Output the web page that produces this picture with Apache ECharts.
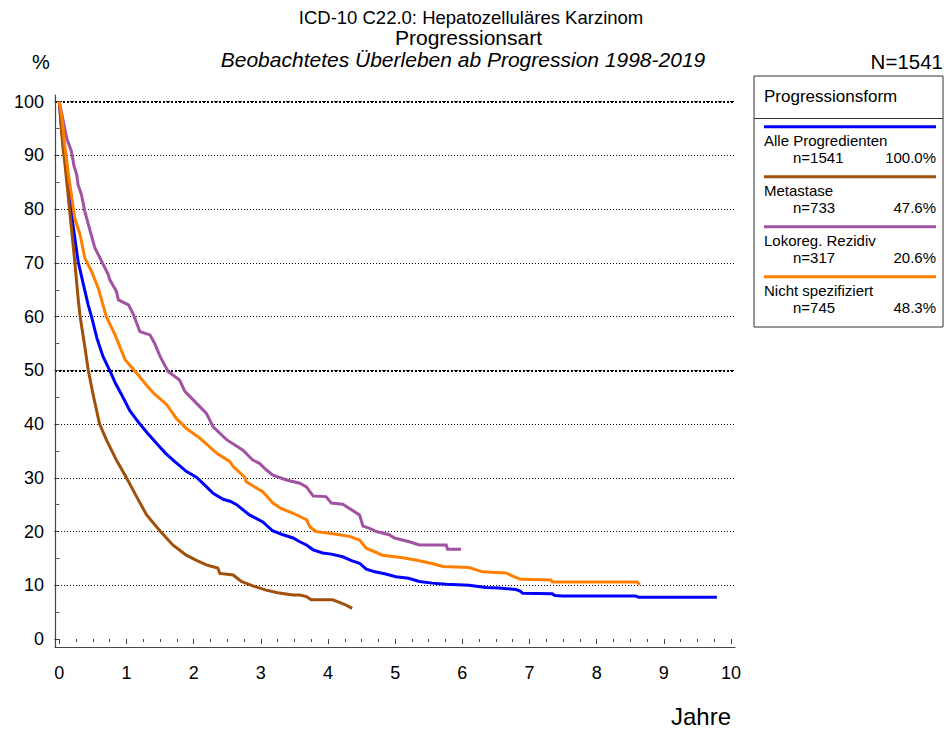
<!DOCTYPE html>
<html>
<head>
<meta charset="utf-8">
<script src="https://cdn.jsdelivr.net/npm/echarts@6/dist/echarts.min.js"></script>
<style>
  html, body { margin: 0; padding: 0; background: #fff; }
  #chart { width: 944px; height: 729px; }
</style>
</head>
<body>
<div id="chart"></div>
<script>
// Kaplan-Meier survival from progression, in percent, against years
const alleProgredienten = [
  [0,100],[0.05,93],[0.10,87.5],[0.15,82.7],[0.21,76.5],[0.28,70.3],[0.36,65.9],[0.43,62.2],
  [0.48,60],[0.56,56],[0.65,52.6],[0.75,50],[0.84,47.5],[0.93,45.4],[1.05,42.5],[1.20,40],
  [1.32,38.2],[1.45,36.4],[1.58,34.6],[1.72,33.0],[1.89,31.2],[2.04,30.1],[2.17,28.6],[2.29,27.1],
  [2.44,26.0],[2.55,25.6],[2.64,25.0],[2.83,23.1],[3.03,21.8],[3.18,20.1],[3.33,19.4],[3.48,18.8],
  [3.58,18.1],[3.68,17.5],[3.78,16.6],[3.92,16.0],[4.05,15.8],[4.22,15.3],[4.35,14.6],[4.47,14.1],
  [4.57,13.0],[4.70,12.5],[4.86,12.1],[5.01,11.6],[5.20,11.3],[5.36,10.7],[5.55,10.4],[5.76,10.2],
  [6.10,10.0],[6.35,9.6],[6.55,9.5],[6.80,9.2],[6.86,8.9],[6.90,8.5],[7.34,8.4],[7.38,8.1],
  [7.49,8.0],[8.58,8.0],[8.63,7.75],[9.79,7.75]
];
const metastase = [
  [0,100],[0.03,95],[0.06,90.8],[0.08,88.9],[0.13,82.7],[0.18,76.5],[0.23,70.3],[0.28,63.4],
  [0.31,60],[0.38,54.4],[0.43,50.1],[0.51,45.1],[0.60,40],[0.70,37.1],[0.85,33.3],[1.00,30],
  [1.15,26.5],[1.30,23.1],[1.50,20.1],[1.69,17.5],[1.89,15.6],[2.05,14.6],[2.19,13.8],[2.30,13.4],
  [2.36,13.2],[2.39,12.2],[2.59,11.9],[2.65,11.3],[2.71,10.7],[2.88,9.9],[3.08,9.1],[3.25,8.6],
  [3.48,8.2],[3.58,8.2],[3.68,7.9],[3.75,7.3],[4.07,7.3],[4.17,6.8],[4.27,6.3],[4.36,5.7]
];
const lokoregRezidiv = [
  [0,100],[0.06,96.3],[0.11,93.2],[0.18,90.8],[0.22,88.0],[0.26,86.4],[0.28,84.5],[0.33,82.7],
  [0.38,79.6],[0.46,75.9],[0.53,72.8],[0.63,70.3],[0.73,67.8],[0.75,66.9],[0.85,64.7],[0.88,63.1],
  [1.03,62.2],[1.10,60.5],[1.20,57.2],[1.35,56.6],[1.42,55.0],[1.50,52.6],[1.62,49.8],[1.79,48.2],
  [1.87,46.1],[2.04,43.9],[2.19,42.0],[2.29,39.5],[2.49,37.1],[2.73,35.2],[2.88,33.3],[2.98,32.7],
  [3.08,31.5],[3.18,30.5],[3.38,29.6],[3.58,29.0],[3.68,28.3],[3.78,26.6],[3.97,26.5],[4.05,25.3],
  [4.22,25.1],[4.32,24.3],[4.47,23.1],[4.52,21.0],[4.62,20.6],[4.72,20.0],[4.91,19.4],[4.99,18.8],
  [5.21,18.1],[5.36,17.5],[5.76,17.5],[5.78,16.7],[5.98,16.7]
];
const nichtSpezifiziert = [
  [0,100],[0.04,96.9],[0.08,92.0],[0.13,87.0],[0.18,82.7],[0.23,78.3],[0.31,75.2],[0.38,70.9],
  [0.48,68.4],[0.58,65.3],[0.65,62.2],[0.70,60.0],[0.83,56.6],[0.98,52.0],[1.15,49.5],[1.28,47.5],
  [1.40,45.8],[1.60,43.6],[1.74,41.1],[1.89,39.2],[2.09,37.4],[2.20,36.2],[2.34,34.6],[2.54,33.0],
  [2.59,32.1],[2.76,30.1],[2.78,29.3],[3.03,27.4],[3.18,25.3],[3.30,24.3],[3.48,23.4],[3.58,22.8],
  [3.68,22.2],[3.73,20.9],[3.82,20.0],[4.07,19.6],[4.32,19.1],[4.47,18.4],[4.57,16.9],[4.81,15.6],
  [5.06,15.2],[5.31,14.7],[5.56,14.0],[5.71,13.5],[6.10,13.3],[6.30,12.5],[6.65,12.3],[6.75,11.7],
  [6.87,11.1],[7.32,11.0],[7.34,10.6],[8.60,10.6],[8.64,10.1]
];

// Legend entries
const groupNames = ['Alle Progredienten', 'Metastase', 'Lokoreg. Rezidiv', 'Nicht spezifiziert'];
const groupN = [1541, 733, 317, 745];
const groupPct = ['100.0%', '47.6%', '20.6%', '48.3%'];
const groupData = [alleProgredienten, metastase, lokoregRezidiv, nichtSpezifiziert];
const groupColors = ['#0000ff', '#a0500a', '#a252a2', '#ff8000'];

const titleLines = [
  'ICD-10 C22.0: Hepatozelluläres Karzinom',
  'Progressionsart',
  'Beobachtetes Überleben ab Progression 1998-2019'
];
const totalLabel = 'N=1541';
const legendTitle = 'Progressionsform';

const FONT = '"Liberation Sans", Arial, sans-serif';
const AXIS_COLOR = '#444';

const chart = echarts.init(document.getElementById('chart'), null, { renderer: 'svg' });

// Legend panel
const legendX = 754, legendY = 76, legendW = 189, legendH = 251;
const legendGraphics = [
  { type: 'rect', shape: { x: legendX, y: legendY, width: legendW, height: legendH },
    style: { fill: '#fff', stroke: '#333', lineWidth: 1 } },
  { type: 'line', shape: { x1: legendX, y1: 118.5, x2: legendX + legendW, y2: 118.5 },
    style: { stroke: '#333', lineWidth: 1 } },
  { type: 'text', x: 764, y: 96,
    style: { text: legendTitle, font: '17px ' + FONT, fill: '#000', textAlign: 'left', textVerticalAlign: 'middle' } }
];
groupNames.forEach((name, i) => {
  const y0 = 126.7 + 50 * i;
  legendGraphics.push(
    { type: 'line', shape: { x1: 764, y1: y0, x2: 936, y2: y0 },
      style: { stroke: groupColors[i], lineWidth: 3 } },
    { type: 'text', x: 764, y: y0 + 13.3,
      style: { text: name, font: '15px ' + FONT, fill: '#000', textAlign: 'left', textVerticalAlign: 'middle' } },
    { type: 'text', x: 793, y: y0 + 30.6,
      style: { text: 'n=' + groupN[i], font: '15px ' + FONT, fill: '#000', textAlign: 'left', textVerticalAlign: 'middle' } },
    { type: 'text', x: 936, y: y0 + 30.6,
      style: { text: groupPct[i], font: '15px ' + FONT, fill: '#000', textAlign: 'right', textVerticalAlign: 'middle' } }
  );
});

const textGraphics = [
  { type: 'text', x: 471, y: 17,
    style: { text: titleLines[0], font: '18.5px ' + FONT, fill: '#000', textAlign: 'center', textVerticalAlign: 'middle' } },
  { type: 'text', x: 468.5, y: 37,
    style: { text: titleLines[1], font: '21px ' + FONT, fill: '#000', textAlign: 'center', textVerticalAlign: 'middle' } },
  { type: 'text', x: 463, y: 59,
    style: { text: titleLines[2], font: 'italic 21px ' + FONT, fill: '#000', textAlign: 'center', textVerticalAlign: 'middle' } },
  { type: 'text', x: 943, y: 61,
    style: { text: totalLabel, font: '20.5px ' + FONT, fill: '#000', textAlign: 'right', textVerticalAlign: 'middle' } },
  { type: 'text', x: 41, y: 62,
    style: { text: '%', font: '20px ' + FONT, fill: '#000', textAlign: 'center', textVerticalAlign: 'middle' } },
  { type: 'text', x: 731, y: 716,
    style: { text: 'Jahre', font: '24px ' + FONT, fill: '#000', textAlign: 'right', textVerticalAlign: 'middle' } }
];

const hidden = { show: false };

chart.setOption({
  animation: false,
  backgroundColor: '#fff',
  grid: [
    // plotting area: x 0..10 years, y 0..100 %
    { left: 59.3, top: 101.7, width: 671.7, height: 537.3 },
    // axis frame, set slightly outside the plotting area
    { left: 55, top: 95, width: 680, height: 552 },
    // horizontal reference lines spanning the frame
    { left: 55, top: 101.7, width: 680, height: 537.3 }
  ],
  xAxis: [
    { gridIndex: 0, type: 'value', min: 0, max: 10, interval: 1, offset: 8,
      axisLine: hidden,
      axisTick: { show: true, length: 5, lineStyle: { color: AXIS_COLOR } },
      minorTick: { show: true, splitNumber: 4, length: 3, lineStyle: { color: AXIS_COLOR } },
      axisLabel: { fontSize: 18, fontFamily: FONT, color: '#000', margin: 17 },
      splitLine: hidden },
    { gridIndex: 1, type: 'value', min: 0, max: 1,
      axisLine: { show: true, lineStyle: { color: AXIS_COLOR, width: 1.2 } },
      axisTick: hidden, axisLabel: hidden, splitLine: hidden },
    { gridIndex: 2, type: 'value', min: 0, max: 1, show: false }
  ],
  yAxis: [
    { gridIndex: 0, type: 'value', min: 0, max: 100, interval: 10, offset: 4.3,
      axisLine: hidden,
      axisTick: { show: true, length: 5, lineStyle: { color: AXIS_COLOR } },
      minorTick: { show: true, splitNumber: 2, length: 3, lineStyle: { color: AXIS_COLOR } },
      axisLabel: { fontSize: 18, fontFamily: FONT, color: '#000', margin: 11 },
      splitLine: hidden },
    { gridIndex: 1, type: 'value', min: 0, max: 1,
      axisLine: { show: true, lineStyle: { color: AXIS_COLOR, width: 1.2 } },
      axisTick: hidden, axisLabel: hidden, splitLine: hidden },
    { gridIndex: 2, type: 'value', min: 0, max: 100, interval: 10,
      axisLine: hidden, axisTick: hidden, axisLabel: hidden,
      splitLine: { show: true, showMinLine: false,
        lineStyle: { color: '#000', width: 1, type: [1, 2] } } },
    { gridIndex: 2, type: 'value', min: 0, max: 100, interval: 50,
      axisLine: hidden, axisTick: hidden, axisLabel: hidden,
      splitLine: { show: true, showMinLine: false,
        lineStyle: { color: '#000', width: 2, type: [2, 2] } } }
  ],
  graphic: textGraphics.concat(legendGraphics),
  series: groupNames.map((name, i) => ({
    name: name,
    type: 'line',
    xAxisIndex: 0,
    yAxisIndex: 0,
    data: groupData[i],
    showSymbol: false,
    symbol: 'none',
    lineStyle: { color: groupColors[i], width: 3, join: 'miter' },
    z: 3 + i
  }))
});
</script>
</body>
</html>
